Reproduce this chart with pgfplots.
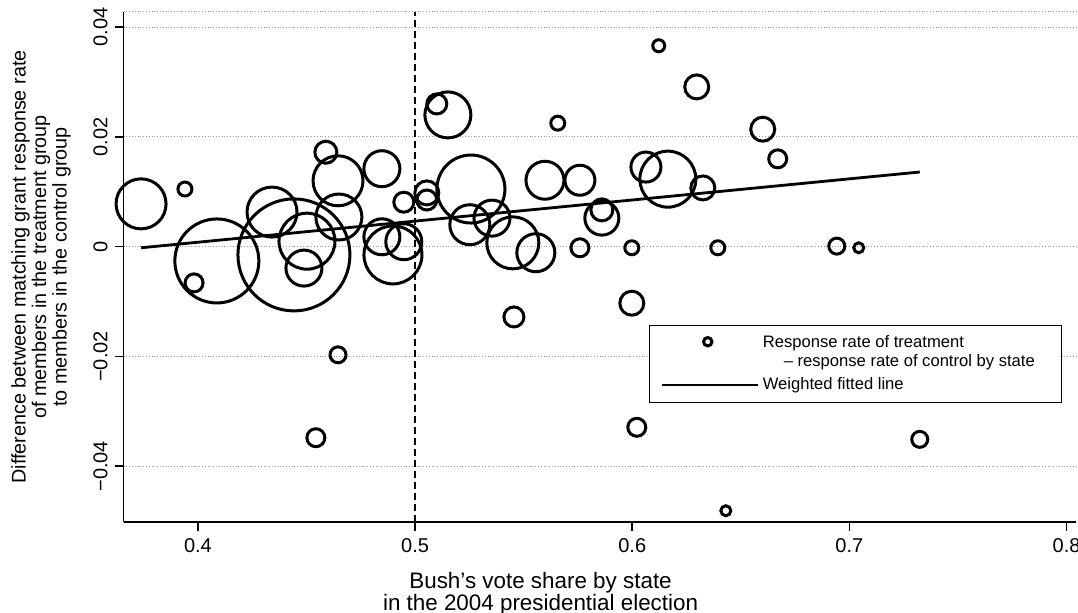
\documentclass[border=0pt]{standalone}
\usepackage{fontspec}
\setmainfont{Liberation Sans}
\usepackage{pgfplots}
\usepackage{pgfplotstable}
\pgfplotsset{compat=1.18}

% x = Bush vote share, y = treatment - control response rate, r = circle radius (pt)
\pgfplotstableread{
x       y        r
0.3738  0.0078   12.5
0.3940  0.0105   3.5
0.4087  -0.0026  21
0.3982  -0.0066  4.5
0.4341  0.0063   12.5
0.4442  -0.0015  28
0.4502  0.0010   14
0.4488  -0.0039  9
0.4589  0.0172   5.5
0.4645  0.0120   12.5
0.4649  0.0054   11.5
0.4847  0.0142   9
0.4847  0.0018   9
0.4948  0.0009   9
0.4898  -0.0015  14.5
0.4948  0.0081   5
0.5054  0.0098   6
0.5054  0.0085   5
0.5100  0.0260   5
0.5151  0.0240   11.5
0.5257  0.0105   17
0.5252  0.0040   10
0.5354  0.0052   9
0.5450  0.0007   13
0.5556  -0.0011  9.5
0.5598  0.0121   9.5
0.5759  0.0121   7.5
0.5657  0.0225   3.5
0.5759  -0.0002  4.5
0.5860  0.0052   8.5
0.5860  0.0067   5.5
0.5998  -0.0002  3.5
0.6063  0.0145   7.5
0.6164  0.0123   14
0.6325  0.0107   6
0.6122  0.0366   3
0.6297  0.0291   6
0.6601  0.0214   6
0.6670  0.0160   4.5
0.6394  -0.0002  3.5
0.6942  0.0001   4
0.7043  -0.0002  2.5
0.5998  -0.0103  6
0.6021  -0.0329  4.5
0.7324  -0.0351  4
0.6431  -0.0481  2.5
0.5455  -0.0128  5
0.4645  -0.0197  4
0.4543  -0.0348  4.5
}\states

\begin{document}
\begin{tikzpicture}
\begin{axis}[
    scale only axis,
    width=476.2pt, height=255pt,
    xmin=0.3658, xmax=0.8044,
    ymin=-0.05015, ymax=0.04275,
    axis x line*=bottom, axis y line*=left,
    axis line style={line width=0.8pt},
    tick align=outside, major tick length=4.5pt,
    tick style={line width=0.8pt, black},
    xtick={0.4,0.5,0.6,0.7,0.8},
    xticklabels={0.4,0.5,0.6,0.7,0.8},
    ytick={-0.04,-0.02,0,0.02,0.04},
    yticklabels={−0.04,−0.02,0,0.02,0.04},
    scaled y ticks=false, scaled x ticks=false,
    /pgf/number format/assume math mode=true,
    xticklabel style={font=\fontsize{10}{12}\selectfont},
    yticklabel style={rotate=90, anchor=south, font=\fontsize{10}{12}\selectfont},
    ymajorgrids,
    grid style={densely dotted, gray!80, line width=0.5pt},
    extra y ticks={0.04275},
    extra y tick labels={},
    extra tick style={major tick length=0pt, grid=major},
    every mark/.append style={line width=1.5pt},
    xlabel={Bush's vote share by state\\in the 2004 presidential election},
    xlabel style={align=center, anchor=north, inner sep=0pt,
        at={(axis description cs:0.4377,-0.098)},
        font=\fontsize{11.2}{11}\selectfont},
    ylabel={Difference between matching grant response rate\\of members in the treatment group\\to members in the control group},
    ylabel style={align=center, anchor=south, inner sep=0pt,
        at={(axis description cs:-0.0553,0.5)},
        font=\fontsize{9.9}{9.2}\selectfont},
    legend style={at={(0.5516,0.386)}, anchor=north west,
        draw=black, line width=0.6pt,
        font=\fontsize{8.3}{9.5}\selectfont,
        cells={anchor=west, align=left}, inner xsep=5.5pt, inner ysep=3pt},
    legend cell align=left,
]
\addplot[scatter, only marks, mark=o, line width=1.5pt, forget plot,
    mark options={line width=1.5pt},
    scatter/use mapped color={draw=black},
    visualization depends on={\thisrow{r} \as \rad},
    scatter/@pre marker code/.append code={\pgfsetlinewidth{1.5pt}\def\pgfplotsmarksize{\rad}},
    scatter/@pre marker code/.append style={/tikz/mark size=\rad}]
    table[x=x, y=y] {\states};
\addplot[black, line width=1.4pt, forget plot] coordinates {(0.3738,-0.0002) (0.7324,0.0136)};
\addplot[black, line width=0.75pt, dash pattern=on 3.7pt off 1.8pt, forget plot]
    coordinates {(0.5,-0.05015) (0.5,0.04275)};

\addlegendimage{legend image code/.code={\path[draw=none] (0pt,0pt) -- (48pt,0pt);
    \draw[line width=1.5pt] (23pt,5.5pt) circle (2.1pt);}}
\addlegendentry{\makebox[142pt][l]{Response rate of treatment}\\\hspace*{10.5pt}\textendash\ response rate of control by state}
\addlegendimage{legend image code/.code={\draw[line width=1.1pt] (0pt,0pt) -- (48pt,0pt);}}
\addlegendentry{Weighted fitted line}
\end{axis}
\pgfresetboundingbox
\path (-61.85pt,-45.5pt) rectangle (477.15pt,261pt);
\end{tikzpicture}
\end{document}
